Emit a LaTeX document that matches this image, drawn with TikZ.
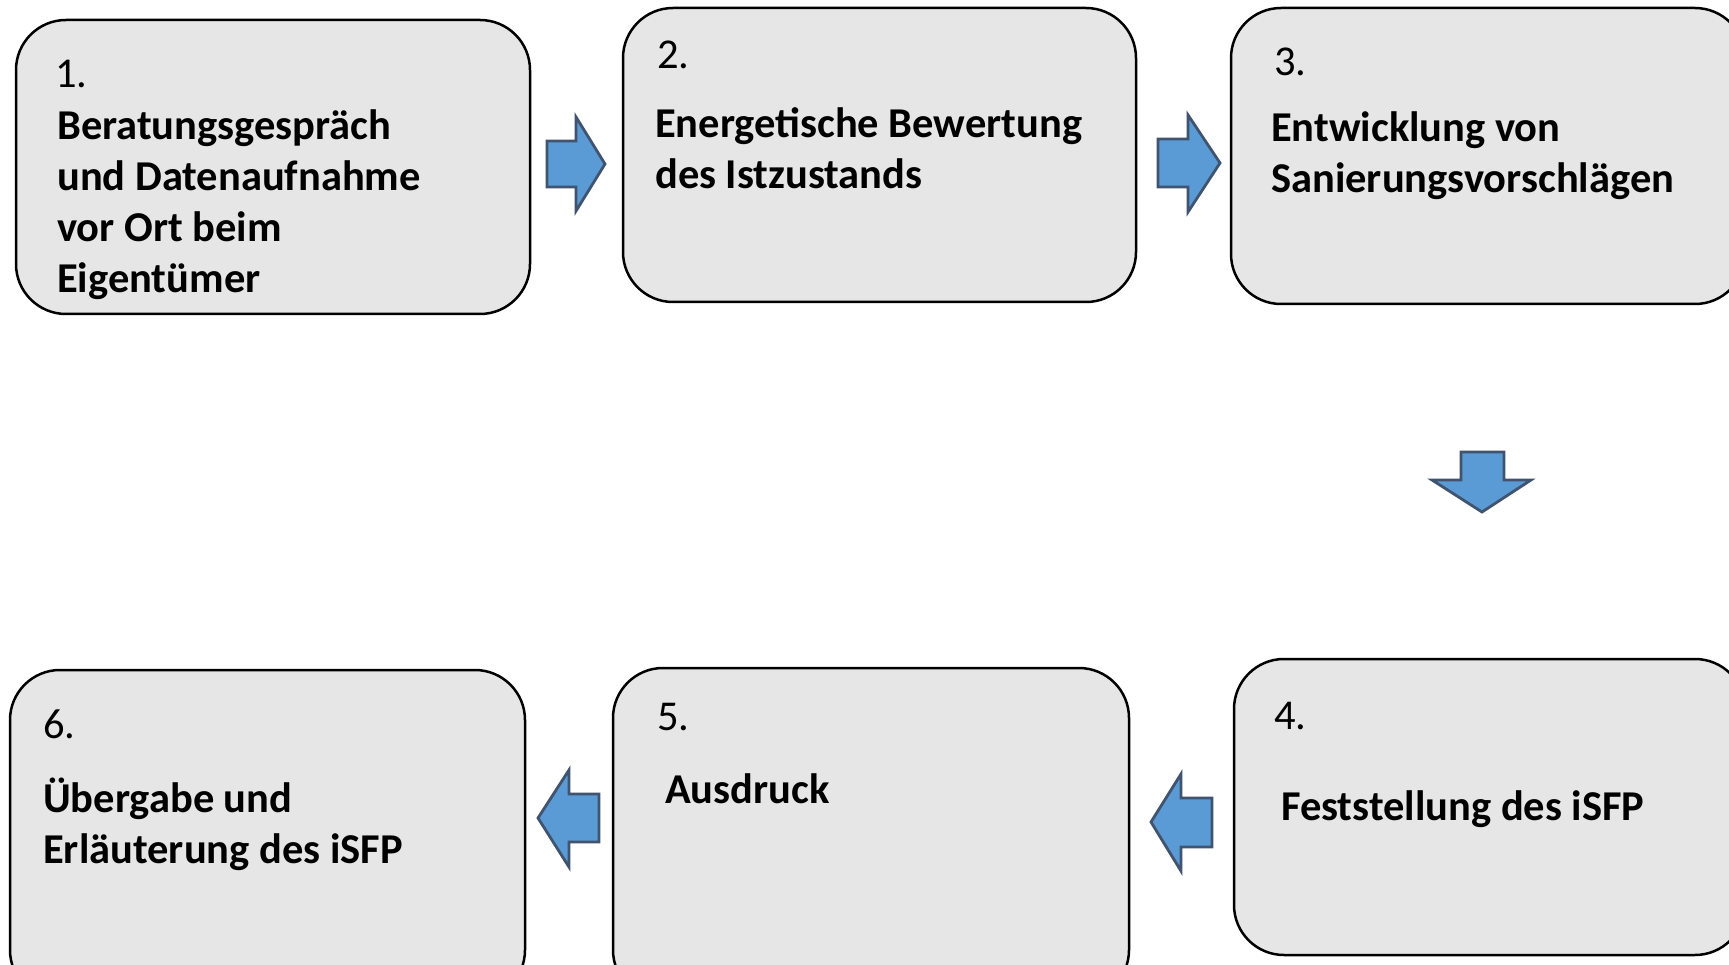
\documentclass[tikz,border=0pt]{standalone}
\usepackage{fontspec}
\setmainfont{Carlito}
\usetikzlibrary{positioning}
\definecolor{boxfill}{HTML}{E6E6E6}
\definecolor{arrfill}{HTML}{5B9BD5}
\definecolor{arrline}{HTML}{41546F}
\tikzset{
  stepbox/.style={draw=black, line width=2.5pt, fill=boxfill, rounded corners=50pt},
  numtxt/.style={anchor=base west, inner sep=0pt, font=\fontsize{42.5}{51}\selectfont},
  bodytxt/.style={anchor=base west, inner sep=0pt, align=left, font=\fontsize{42.5}{51}\selectfont\bfseries},
  blockarrow/.style={draw=arrline, line width=2.8pt, fill=arrfill, line join=miter}
}
\begin{document}
\begin{tikzpicture}[x=1pt,y=-1pt]
\useasboundingbox (0,0) rectangle (1729,965);
\clip (0,0) rectangle (1729,965);
\fill[white] (0,0) rectangle (1729,965);
% boxes
\draw[stepbox] (16,20) rectangle (530,314);
\draw[stepbox] (623,8) rectangle (1136,302);
\draw[stepbox] (1231,8) rectangle (1745,304);
\draw[stepbox] (1234,659) rectangle (1745,955);
\draw[stepbox] (613,668) rectangle (1129,1000);
\draw[stepbox] (10,670) rectangle (525,1000);
% texts (base anchor = baseline of the last line)
\node[numtxt] (n1) at (55,88) {1.};
\node[bodytxt] (t1) at (57,293) {Beratungsgespräch\\und Datenaufnahme\\vor Ort beim\\Eigentümer};
\node[numtxt] (n2) at (657,69) {2.};
\node[bodytxt] (t2) at (655,189) {Energetische Bewertung\\des Istzustands};
\node[numtxt] (n3) at (1274,76) {3.};
\node[bodytxt] (t3) at (1271,193) {Entwicklung von\\Sanierungsvorschlägen};
\node[numtxt] (n4) at (1274,729) {4.};
\node[bodytxt] (t4) at (1281,820) {Feststellung des iSFP};
\node[numtxt] (n5) at (657,730) {5.};
\node[bodytxt] (t5) at (665,803) {Ausdruck};
\node[numtxt] (n6) at (43,738) {6.};
\node[bodytxt] (t6) at (43,863) {Übergabe und\\Erläuterung des iSFP};
% arrows
\draw[blockarrow] (547,141) -- (576,141) -- (576,117) -- (605,164) -- (576,211) -- (576,187) -- (547,187) -- cycle;
\draw[blockarrow] (1158,139) -- (1188,139) -- (1188,115) -- (1220,163) -- (1188,212) -- (1188,187) -- (1158,187) -- cycle;
\draw[blockarrow] (1461,452) -- (1504,452) -- (1504,480) -- (1531,480) -- (1482,512) -- (1432,480) -- (1461,480) -- cycle;
\draw[blockarrow] (599,794) -- (569,794) -- (569,770) -- (538,818) -- (569,867) -- (569,842) -- (599,842) -- cycle;
\draw[blockarrow] (1212,798) -- (1181,798) -- (1181,774) -- (1151,822) -- (1181,871) -- (1181,847) -- (1212,847) -- cycle;
\end{tikzpicture}
\end{document}
